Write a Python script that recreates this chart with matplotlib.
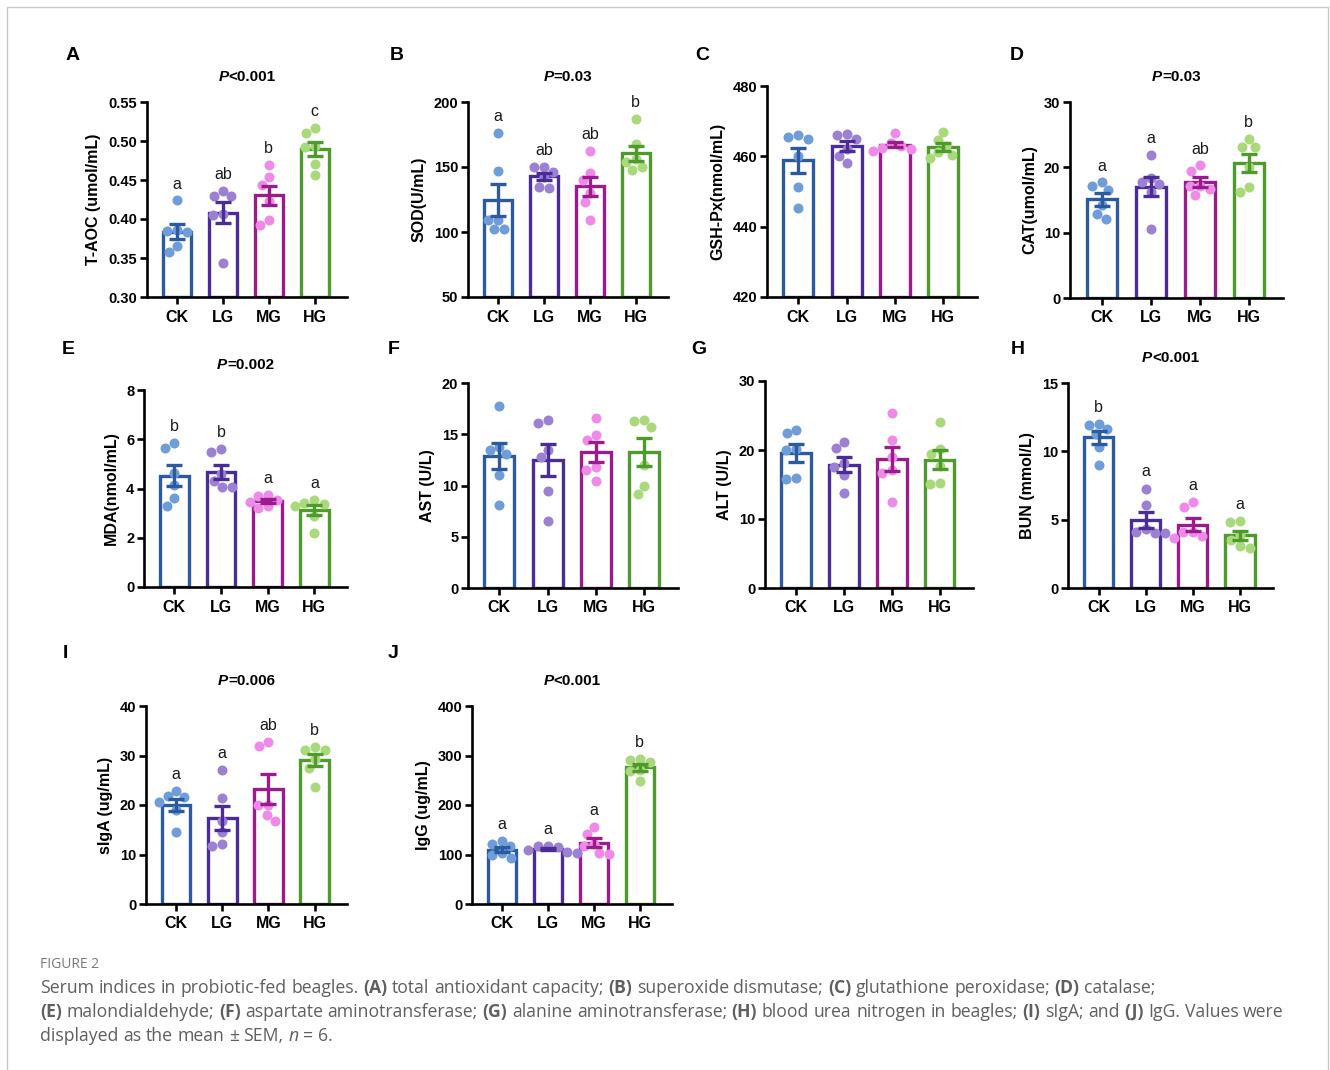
import numpy as np
import matplotlib
matplotlib.use('Agg')
import matplotlib.pyplot as plt
from matplotlib.patches import Rectangle

W, H, DPI = 1330, 1070, 100
plt.rcParams['font.family'] = ['Liberation Sans', 'DejaVu Sans']

groups = ['CK', 'LG', 'MG', 'HG']

# ---- data (6 animals per group) ----
taoc = [[0.424, 0.385, 0.386, 0.383, 0.366, 0.358],
        [0.436, 0.430, 0.429, 0.407, 0.405, 0.343],
        [0.469, 0.454, 0.444, 0.423, 0.392, 0.399],
        [0.510, 0.517, 0.493, 0.492, 0.471, 0.457]]
sod = [[176.2, 147.2, 109.5, 109.5, 102.3, 102.3],
       [150, 150, 146, 142, 135, 134],
       [162.6, 145.4, 139.7, 130, 123, 109.5],
       [187, 168, 156, 154, 150, 148]]
gsh = [[465.6, 466.0, 465.0, 460.2, 451.4, 445.2],
       [466.0, 466.3, 465.0, 462.0, 460.0, 458.0],
       [466.5, 463.8, 462.8, 462.5, 462.2, 461.6],
       [467.0, 464.6, 462.9, 461.3, 460.5, 459.5]]
cat = [[17.1, 17.7, 16.5, 14.3, 12.1, 12.9],
       [21.9, 18.4, 17.7, 17.4, 16.3, 10.6],
       [19.5, 20.3, 17.1, 17.1, 16.7, 15.7],
       [24.3, 23.1, 23.1, 20.0, 16.3, 17.0]]
mda = [[5.65, 5.86, 4.61, 4.14, 3.6, 3.3],
       [5.49, 5.59, 4.6, 4.3, 4.07, 4.05],
       [3.75, 3.7, 3.55, 3.45, 3.3, 3.2],
       [3.53, 3.43, 3.39, 3.3, 2.9, 2.2]]
ast = [[17.72, 13.43, 13.8, 13.1, 11.0, 8.13],
       [16.1, 16.4, 12.8, 13.5, 9.46, 6.5],
       [16.6, 14.9, 14.4, 11.8, 11.5, 10.4],
       [16.4, 16.3, 15.7, 12.0, 9.95, 9.2]]
alt = [[22.46, 22.95, 20.0, 20.2, 15.8, 16.0],
       [21.2, 20.3, 17.5, 18.1, 16.4, 13.7],
       [25.3, 21.5, 19.0, 17.1, 16.7, 12.5],
       [24.0, 20.1, 19.4, 17.7, 15.1, 15.2]]
bun = [[12.0, 11.9, 11.6, 11.3, 10.3, 9.0],
       [7.27, 6.1, 4.3, 4.1, 4.0, 4.0],
       [6.3, 5.9, 4.1, 3.66, 4.07, 3.83],
       [4.88, 4.8, 3.9, 3.54, 3.05, 2.93]]
siga = [[22.9, 21.8, 21.6, 20.6, 19.0, 14.5],
        [27.1, 21.5, 16.7, 14.5, 11.8, 12.2],
        [31.9, 32.8, 20.0, 20.0, 16.7, 18.0],
        [31.7, 31.1, 31.1, 29.2, 27.5, 23.7]]
igg = [[128, 121, 117, 103, 98, 93],
       [118, 117, 115, 110, 106, 104],
       [156, 141, 122, 118, 104, 102],
       [293, 290, 287, 270, 268, 248]]

taoc_letters = ['a', 'ab', 'b', 'c']
sod_letters = ['a', 'ab', 'ab', 'b']
cat_letters = ['a', 'a', 'ab', 'b']
mda_letters = ['b', 'b', 'a', 'a']
bun_letters = ['b', 'a', 'a', 'a']
siga_letters = ['a', 'a', 'ab', 'b']
igg_letters = ['a', 'a', 'a', 'b']

taoc_ticks = [0.30, 0.35, 0.40, 0.45, 0.50, 0.55]
sod_ticks = [50, 100, 150, 200]
gsh_ticks = [420, 440, 460, 480]
cat_ticks = [0, 10, 20, 30]
mda_ticks = [0, 2, 4, 6, 8]
ast_ticks = [0, 5, 10, 15, 20]
alt_ticks = [0, 10, 20, 30]
bun_ticks = [0, 5, 10, 15]
siga_ticks = [0, 10, 20, 30, 40]
igg_ticks = [0, 100, 200, 300, 400]

edge_colors = ['#2b5a9f', '#4b2b97', '#9b1b8c', '#4f9a2d']
dot_colors = ['#6f9dd9', '#9c80d2', '#ee8ae8', '#a9d97a']

caption_lines = [
    "Serum indices in probiotic-fed beagles. **(A)** total antioxidant capacity; **(B)** superoxide dismutase; **(C)** glutathione peroxidase; **(D)** catalase;",
    "**(E)** malondialdehyde; **(F)** aspartate aminotransferase; **(G)** alanine aminotransferase; **(H)** blood urea nitrogen in beagles; **(I)** sIgA; and **(J)** IgG. Values were",
    "displayed as the mean \u00b1 SEM, _n_ = 6.",
]

# panel: letter, data, ylabel, ticks, tick fmt, p-text (prefix, rest), letters, rect (l, t, r, b) px
panels = [
    ('A', taoc, 'T-AOC (umol/mL)', taoc_ticks, '{:.2f}', ('P', '<0.001'), taoc_letters, (147, 102, 347, 297)),
    ('B', sod, 'SOD(U/mL)', sod_ticks, '{:.0f}', ('P', '=0.03'), sod_letters, (468, 102, 668, 297)),
    ('C', gsh, 'GSH-Px(nmol/mL)', gsh_ticks, '{:.0f}', None, None, (767, 86, 977, 297)),
    ('D', cat, 'CAT(umol/mL)', cat_ticks, '{:.0f}', ('P', '=0.03'), cat_letters, (1070, 102, 1283, 298)),
    ('E', mda, 'MDA(nmol/mL)', mda_ticks, '{:.0f}', ('P', '=0.002'), mda_letters, (144, 390, 347, 587)),
    ('F', ast, 'AST (U/L)', ast_ticks, '{:.0f}', None, None, (468, 383, 678, 588)),
    ('G', alt, 'ALT (U/L)', alt_ticks, '{:.0f}', None, None, (765, 381, 973, 588)),
    ('H', bun, 'BUN (mmol/L)', bun_ticks, '{:.0f}', ('P', '<0.001'), bun_letters, (1068, 383, 1273, 588)),
    ('I', siga, 'sIgA (ug/mL)', siga_ticks, '{:.0f}', ('P', '=0.006'), siga_letters, (146, 706, 347, 904)),
    ('J', igg, 'IgG (ug/mL)', igg_ticks, '{:.0f}', ('P', '<0.001'), igg_letters, (472, 706, 672, 904)),
]

fig = plt.figure(figsize=(W / DPI, H / DPI), dpi=DPI)
fig.patch.set_facecolor('white')
renderer = fig.canvas.get_renderer()

XMIN, XMAX = -0.65, 3.7
BAR_W = 0.62
DOT_D = 10.0  # px


def swarm_offsets(vals, h_px, ylim, px_per_x):
    ys = (np.asarray(vals, float) - ylim[0]) / (ylim[1] - ylim[0]) * h_px
    order = np.argsort(-ys)
    cands = sorted(np.arange(-40, 40.25, 0.5), key=lambda c: (abs(c), c))
    placed = []
    offs = np.zeros(len(vals))
    for i in order:
        chosen = 0.0
        for c in cands:
            if all((c - px) ** 2 + (ys[i] - py) ** 2 >= DOT_D ** 2 for px, py in placed):
                chosen = c
                break
        offs[i] = chosen
        placed.append((chosen, ys[i]))
    return offs / px_per_x


def fig_runs(x_px, y_px, runs, ha='left', **common):
    """runs: list of (text, props); placed side by side, no spaces added."""
    texts, widths = [], []
    for s, kw in runs:
        t = fig.text(0, 0, s, va='center', ha='left', **{**common, **kw})
        texts.append(t)
        widths.append(t.get_window_extent(renderer).width)
    x0 = x_px - (sum(widths) / 2 if ha == 'center' else 0)
    for t, w in zip(texts, widths):
        t.set_position((x0 / W, 1 - y_px / H))
        x0 += w


for (letter, data, ylabel, ticks, fmt, ptxt, sig, rect) in panels:
    l, t, r, b = rect
    ax = fig.add_axes([l / W, 1 - b / H, (r - l) / W, (b - t) / H])
    ymin, ymax = ticks[0], ticks[-1]
    ax.set_xlim(XMIN, XMAX)
    ax.set_ylim(ymin, ymax)
    x = np.arange(len(groups))
    means = np.array([np.mean(v) for v in data])
    sems = np.array([np.std(v, ddof=1) / np.sqrt(len(v)) for v in data])
    px_per_x = (r - l) / (XMAX - XMIN)
    for i in range(len(groups)):
        ax.bar(x[i], means[i] - ymin, bottom=ymin, width=BAR_W, facecolor='white',
               edgecolor=edge_colors[i], linewidth=2.4, zorder=2)
        offs = swarm_offsets(data[i], b - t, (ymin, ymax), px_per_x)
        ax.scatter(x[i] + offs, data[i], s=52, color=dot_colors[i], linewidths=0, zorder=3,
                   clip_on=False)
        ax.errorbar(x[i], means[i], yerr=sems[i], fmt='none', ecolor=edge_colors[i],
                    elinewidth=2.4, capsize=6, capthick=2.4, zorder=4)
        if sig:
            top = max(max(data[i]), means[i] + sems[i])
            ax.text(x[i], top + 0.045 * (ymax - ymin), sig[i], ha='center', va='bottom',
                    fontsize=11.5, color='#1a1a1a')
    for s in ['top', 'right']:
        ax.spines[s].set_visible(False)
    for s in ['left', 'bottom']:
        ax.spines[s].set_linewidth(1.9)
        ax.spines[s].set_zorder(5)
    ax.set_yticks(ticks)
    ax.set_yticklabels([fmt.format(v) for v in ticks], fontweight='bold', fontsize=10.5)
    ax.set_xticks(x)
    ax.set_xticklabels(groups, fontweight='bold', fontsize=11.5)
    ax.tick_params(axis='both', width=1.9, length=5, color='black')
    ax.tick_params(axis='y', pad=2)
    ax.tick_params(axis='x', pad=4)
    ax.set_ylabel(ylabel, fontweight='bold', fontsize=11.5, labelpad=5)
    if ptxt:
        fig_runs((l + r) / 2, t - 25, [(ptxt[0], dict(fontstyle='italic')), (ptxt[1], {})],
                 ha='center', fontsize=11, fontweight='bold')

# panel letters
letter_pos = {'A': (66, 56), 'B': (390, 56), 'C': (695, 56), 'D': (1010, 56),
              'E': (62, 350), 'F': (388, 350), 'G': (691, 350), 'H': (1011, 350),
              'I': (63, 653), 'J': (388, 653)}
for k, (px, py) in letter_pos.items():
    fig.text(px / W, 1 - py / H, k, fontsize=14, fontweight='bold', ha='left', va='center')

# caption
cap_font = ['Open Sans', 'DejaVu Sans']
cap_size = 12.7
cap_color = '#5f5f5f'
fig.text(40 / W, 1 - 964 / H, 'FIGURE 2', fontsize=10, color='#7a7a7a', family=cap_font,
         ha='left', va='center')

space_t = fig.text(0, 0, 'a a', fontsize=cap_size, family=cap_font)
nosp_t = fig.text(0, 0, 'aa', fontsize=cap_size, family=cap_font)
space_w = space_t.get_window_extent(renderer).width - nosp_t.get_window_extent(renderer).width
space_t.remove()
nosp_t.remove()

for li, line in enumerate(caption_lines):
    y = 988 + 24 * li
    xcur = 40
    for word in line.split(' '):
        props = {}
        txt = word
        if txt.startswith('**') and '**' in txt[2:]:
            end = txt.index('**', 2)
            props['fontweight'] = 'bold'
            rest = txt[end + 2:]
            txt = txt[2:end]
        elif txt.startswith('_') and txt.count('_') >= 2:
            end = txt.index('_', 1)
            props['fontstyle'] = 'italic'
            rest = txt[end + 1:]
            txt = txt[1:end]
        else:
            rest = ''
        for s, kw in [(txt, props), (rest, {})]:
            if not s:
                continue
            tt = fig.text(xcur / W, 1 - y / H, s, fontsize=cap_size, family=cap_font,
                          color=cap_color, ha='left', va='center', **kw)
            xcur += tt.get_window_extent(renderer).width
        xcur += space_w

# outer frame
fig.patches.append(Rectangle((7 / W, -0.01), (1328 - 7) / W, 1 - 7 / H + 0.01,
                             transform=fig.transFigure, fill=False, edgecolor='#c8c8c8',
                             linewidth=1.0))

fig.savefig('out.png', dpi=DPI, facecolor='white')
